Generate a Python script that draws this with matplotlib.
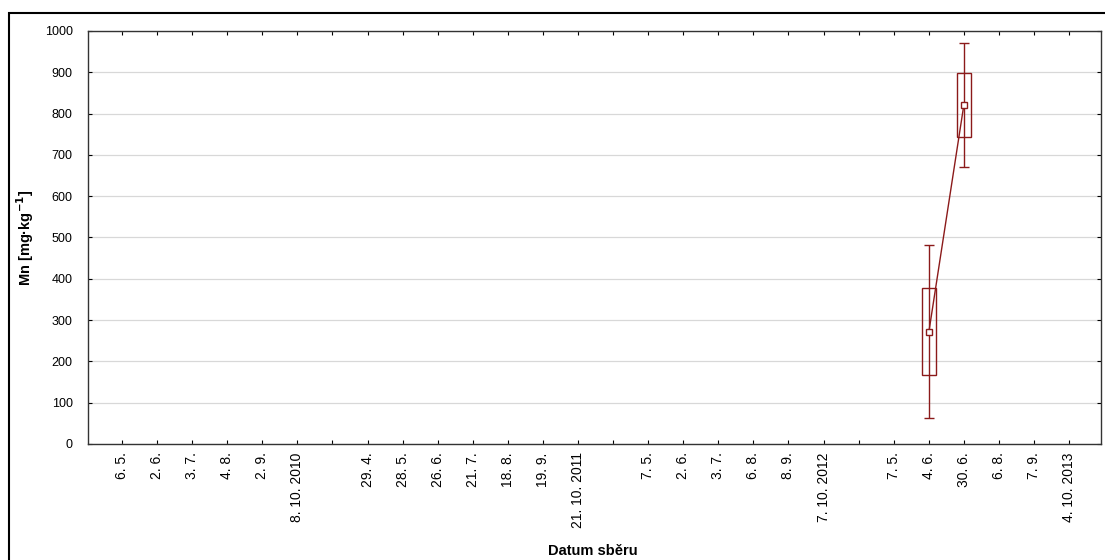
import numpy as np
import matplotlib.pyplot as plt
from matplotlib.patches import Rectangle

plt.rcParams['font.family'] = ['Liberation Sans', 'DejaVu Sans']

# datumy sběru (prázdné = mezera mezi roky)
labels = ['6. 5.', '2. 6.', '3. 7.', '4. 8.', '2. 9.', '8. 10. 2010', '',
          '29. 4.', '28. 5.', '26. 6.', '21. 7.', '18. 8.', '19. 9.', '21. 10. 2011', '',
          '7. 5.', '2. 6.', '3. 7.', '6. 8.', '8. 9.', '7. 10. 2012', '',
          '7. 5.', '4. 6.', '30. 6.', '6. 8.', '7. 9.', '4. 10. 2013']

# hodnoty Mn jen pro 4. 6. a 30. 6. 2013
data_idx = [23, 24]
mean_vals = [270, 821]
box_low = [166, 744]
box_high = [378, 898]
whisk_low = [64, 671]
whisk_high = [481, 970]

col = '#8b1a1a'
x = np.arange(len(labels))

fig = plt.figure(figsize=(11.05, 5.6), dpi=100)
ax = fig.add_axes([88 / 1105, 1 - 444 / 560, (1101 - 88) / 1105, (444 - 31) / 560])

w = 0.4
for i, xi in enumerate(data_idx):
    ax.add_patch(Rectangle((xi - w / 2, box_low[i]), w, box_high[i] - box_low[i],
                           fill=False, edgecolor=col, lw=1, zorder=3))
    ax.errorbar(xi, mean_vals[i], yerr=[[mean_vals[i] - whisk_low[i]], [whisk_high[i] - mean_vals[i]]],
                fmt='none', ecolor=col, elinewidth=1, capsize=3.5, zorder=2)
ax.plot(data_idx, mean_vals, color=col, lw=1, marker='s', markersize=5,
        markerfacecolor='white', markeredgecolor=col, zorder=4)

ax.set_xlim(-0.97, len(labels) - 0.09)
ax.set_ylim(0, 1000)
ax.set_yticks(np.arange(0, 1001, 100))
ax.set_xticks(x)
ax.set_xticklabels(labels, rotation=90, fontsize=10)
ax.tick_params(axis='y', labelsize=9, direction='in', length=3, left=True, right=True, pad=11)
ax.tick_params(axis='x', direction='in', length=3, top=True, bottom=True, pad=6)
ax.yaxis.grid(True, color='#d8d8d8', lw=0.9)
ax.set_axisbelow(True)
for s in ax.spines.values():
    s.set_linewidth(1)
    s.set_color('#333333')

ax.set_ylabel('Mn [mg·kg$^{\\mathbf{-1}}$]', fontsize=10.5, fontweight='bold', labelpad=6)
fig.text(593 / 1105, 1 - 551 / 560, 'Datum sběru', fontsize=10.5,
         fontweight='bold', ha='center', va='center')

# rámeček kolem grafu
fig.patches.append(Rectangle((9 / 1105, -0.01), 1.2, 1 - 13 / 560 + 0.01, transform=fig.transFigure,
                             fill=False, edgecolor='black', lw=1.5))

fig.savefig('out.png', dpi=100)
